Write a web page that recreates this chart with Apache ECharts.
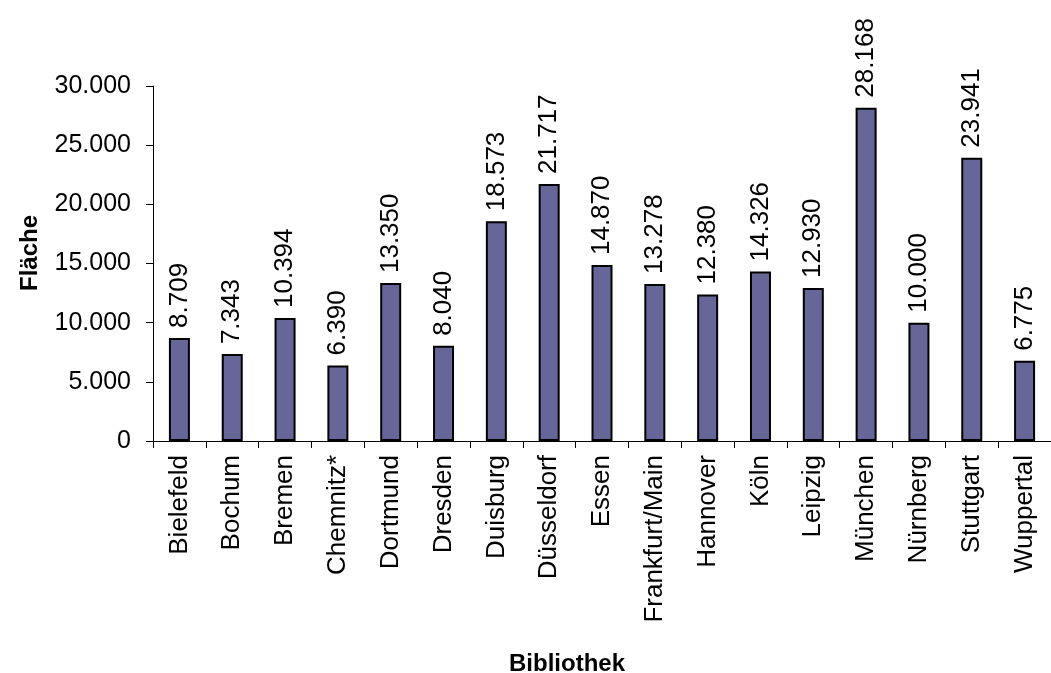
<!DOCTYPE html>
<html>
<head>
<meta charset="utf-8">
<script src="https://cdn.jsdelivr.net/npm/echarts@6/dist/echarts.min.js"></script>
<style>
html,body{margin:0;padding:0;background:#fff;overflow:hidden;}
#chart{width:1051px;height:673px;}
</style>
</head>
<body>
<div id="chart"></div>
<script>
const categories = ["Bielefeld","Bochum","Bremen","Chemnitz*","Dortmund","Dresden","Duisburg","Düsseldorf","Essen","Frankfurt/Main","Hannover","Köln","Leipzig","München","Nürnberg","Stuttgart","Wuppertal"];
const flaeche = [8709,7343,10394,6390,13350,8040,18573,21717,14870,13278,12380,14326,12930,28168,10000,23941,6775];
const yAxisName = "Fläche";
const xAxisName = "Bibliothek";

function de(v){ return String(Math.round(v)).replace(/\B(?=(\d{3})+(?!\d))/g, "."); }

const FONT = "'Liberation Sans', Arial, sans-serif";
const chart = echarts.init(document.getElementById('chart'), null, {renderer:'canvas'});
chart.setOption({
  animation:false,
  backgroundColor:'#ffffff',
  textStyle:{fontFamily:FONT},
  graphic:[{
    type:'text', x:30, y:253, rotation:Math.PI/2,
    style:{text:yAxisName, fontFamily:FONT, fontSize:24, fontWeight:'bold', fill:'#000', align:'center', verticalAlign:'middle'}
  },{
    type:'text', x:567, y:664,
    style:{text:xAxisName, fontFamily:FONT, fontSize:24, fontWeight:'bold', fill:'#000', align:'center', verticalAlign:'middle'}
  }],
  grid:{left:153, top:86, width:905, height:355, containLabel:false},
  xAxis:{
    type:'category', data:categories, boundaryGap:true,
    axisLine:{show:true, lineStyle:{color:'#000', width:1}},
    axisTick:{show:true, alignWithLabel:false, interval:0, length:7, lineStyle:{color:'#000'}},
    axisLabel:{interval:0, rotate:90, margin:14, fontSize:26, color:'#000', fontFamily:FONT},
    splitLine:{show:false}
  },
  yAxis:{
    type:'value', min:0, max:30000, interval:5000,
    axisLine:{show:true, lineStyle:{color:'#000', width:1}},
    axisTick:{show:true, length:7, lineStyle:{color:'#000'}},
    axisLabel:{margin:22, fontSize:25, color:'#000', fontFamily:FONT, formatter:de},
    splitLine:{show:false}
  },
  series:[{
    type:'bar', data:flaeche, barWidth:21,
    itemStyle:{color:'#666699', borderColor:'#000', borderWidth:2},
    label:{show:true, position:'top', rotate:90, align:'left', verticalAlign:'middle', distance:10,
      fontSize:26, color:'#000', fontFamily:FONT, formatter:p=>de(p.value)}
  }]
});
</script>
</body>
</html>
